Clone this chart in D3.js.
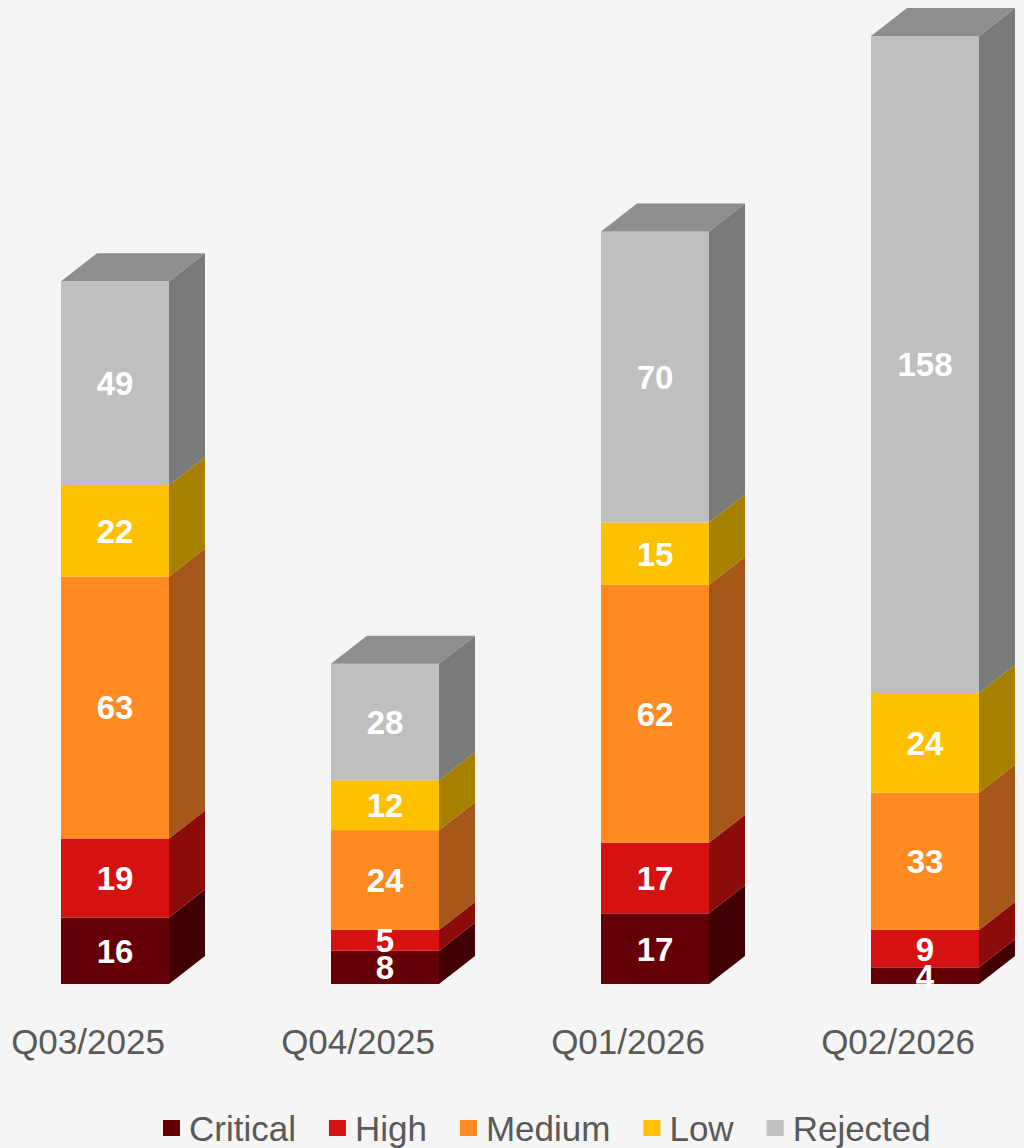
<!DOCTYPE html>
<html>
<head>
<meta charset="utf-8">
<script src="https://cdn.jsdelivr.net/npm/d3@7/dist/d3.min.js"></script>
<style>
  html, body { margin: 0; padding: 0; background: #f5f5f5; }
  svg { display: block; font-family: "Liberation Sans", Arial, sans-serif; }
</style>
</head>
<body>
<svg id="chart" width="1024" height="1148"></svg>
<script>
// 3D 风格堆叠柱: 正面 + 右侧面 + 顶面, 数值标签居中
const quarters = ["Q03/2025", "Q04/2025", "Q01/2026", "Q02/2026"];
const severities = ["Critical", "High", "Medium", "Low", "Rejected"];
const critical = [16, 8, 17, 4];
const high = [19, 5, 17, 9];
const medium = [63, 24, 62, 33];
const low = [22, 12, 15, 24];
const rejected = [49, 28, 70, 158];

const frontColor = ["#640006", "#d61111", "#ff8a22", "#ffc000", "#bfbfbf"];
const sideColor = ["#400004", "#8c0b0b", "#a6571a", "#a88000", "#7a7a7a"];
const topColor = "#8e8e8e";

const W = 1024, H = 1148;
const DX = 36, DY = 28;     // 深度偏移
const base = 984;

const rows = quarters.map((q, i) => {
  const o = { q };
  o.Critical = critical[i]; o.High = high[i]; o.Medium = medium[i];
  o.Low = low[i]; o.Rejected = rejected[i];
  return o;
});
const series = d3.stack().keys(severities)(rows);
const total = d3.max(rows, (r) => d3.sum(severities, (k) => r[k]));

const svg = d3.select("#chart");
svg.append("rect").attr("width", W).attr("height", H).attr("fill", "#f5f5f5");

const x = d3.scaleBand().domain(quarters).range([-20, 1060]).paddingInner(0.6).paddingOuter(0.3);
const y = d3.scaleLinear().domain([0, total]).range([base, 36]);
const bw = x.bandwidth();

const gBars = svg.append("g");
series.forEach((s, si) => {
  const g = gBars.append("g");
  s.forEach((d, i) => {
    const x0 = x(d.data.q), x1 = x0 + bw;
    const yTop = y(d[1]), yBot = y(d[0]);
    // 侧面
    g.append("path")
      .attr("d", `M${x1},${yBot}L${x1 + DX},${yBot - DY}L${x1 + DX},${yTop - DY}L${x1},${yTop}Z`)
      .attr("fill", sideColor[si]);
    // 正面
    g.append("rect")
      .attr("x", x0).attr("y", yTop).attr("width", bw).attr("height", yBot - yTop)
      .attr("fill", frontColor[si]);
    // 顶面 (仅最上层)
    if (si === severities.length - 1) {
      g.append("path")
        .attr("d", `M${x0},${yTop}L${x0 + DX},${yTop - DY}L${x1 + DX},${yTop - DY}L${x1},${yTop}Z`)
        .attr("fill", topColor);
    }
  });
});

// 数值标签
const gLab = svg.append("g");
series.forEach((s) => {
  s.forEach((d) => {
    gLab.append("text")
      .attr("x", x(d.data.q) + bw / 2)
      .attr("y", (y(d[0]) + y(d[1])) / 2)
      .attr("dy", "0.36em")
      .attr("text-anchor", "middle")
      .attr("fill", "#ffffff")
      .attr("font-weight", "bold")
      .attr("font-size", 33)
      .text(d.data[s.key]);
  });
});

// 分类轴标签
svg.append("g").selectAll("text").data(quarters).join("text")
  .attr("x", (d) => x(d) + bw / 2 - 27)
  .attr("y", 1054)
  .attr("text-anchor", "middle")
  .attr("fill", "#595959")
  .attr("font-size", 35)
  .text((d) => d);

// 图例
const gLeg = svg.append("g").attr("transform", "translate(163,1128)");
let lx = 0;
severities.forEach((k, i) => {
  const it = gLeg.append("g").attr("transform", `translate(${lx},0)`);
  it.append("rect").attr("x", 0).attr("y", -8).attr("width", 17).attr("height", 16).attr("fill", frontColor[i]);
  const t = it.append("text").attr("x", 26).attr("y", 0).attr("dy", "0.36em")
    .attr("fill", "#595959").attr("font-size", 35).text(k);
  lx += 26 + t.node().getComputedTextLength() + 33;
});
</script>
</body>
</html>
